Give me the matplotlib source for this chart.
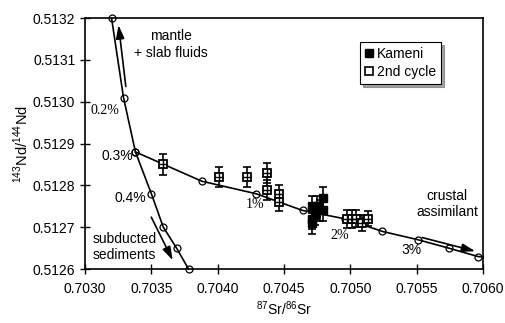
import matplotlib.pyplot as plt
from matplotlib.lines import Line2D

plt.rcParams['font.family'] = ['Liberation Sans', 'DejaVu Sans']
plt.rcParams['mathtext.fontset'] = 'custom'
plt.rcParams['mathtext.rm'] = 'Liberation Sans'

# mixing curve: mantle + slab fluids -> subducted sediments
sed_x = [0.70320, 0.70329, 0.70338, 0.70350, 0.70359, 0.70369, 0.70378]
sed_y = [0.51320, 0.51301, 0.51288, 0.51278, 0.51270, 0.51265, 0.51260]

# assimilation curve starting at 0.3% point
crust_x = [0.70338, 0.70388, 0.70429, 0.70464, 0.70496, 0.70524, 0.70551, 0.70574, 0.70596]
crust_y = [0.51288, 0.51281, 0.51278, 0.51274, 0.51272, 0.51269, 0.51267, 0.51265, 0.51263]

# Kameni samples
kam_x = [0.70471, 0.70471, 0.70473, 0.70475, 0.70477, 0.70479, 0.70479, 0.70471]
kam_y = [0.51275, 0.51272, 0.51273, 0.51275, 0.51274, 0.51277, 0.51274, 0.51271]
kam_err = [0.000025] * len(kam_x)

# 2nd cycle samples
cyc_x = [0.70359, 0.70401, 0.70422, 0.70437, 0.70437, 0.70446, 0.70446,
         0.70497, 0.70501, 0.70504, 0.70509, 0.70513]
cyc_y = [0.51285, 0.51282, 0.51282, 0.51283, 0.51279, 0.51278, 0.51276,
         0.51272, 0.51272, 0.51272, 0.51271, 0.51272]
cyc_err = [0.000025, 0.000024, 0.000024, 0.000024, 0.000024, 0.000022, 0.000022,
           0.000022, 0.000022, 0.000020, 0.000020, 0.000018]

x_ticks = [0.7030, 0.7035, 0.7040, 0.7045, 0.7050, 0.7055, 0.7060]
y_ticks = [0.5126, 0.5127, 0.5128, 0.5129, 0.5130, 0.5131, 0.5132]

fig = plt.figure(figsize=(5.06, 3.23), dpi=100)
ax = fig.add_axes([0.168, 0.167, 0.787, 0.777])

ax.plot(sed_x, sed_y, color='black', lw=1.2, marker='o', ms=5,
        mfc='none', mec='black', mew=0.9, zorder=3, clip_on=False)
ax.plot(crust_x + [0.7060], crust_y + [crust_y[-1] - 0.0000012], color='black', lw=1.2,
        zorder=3, clip_on=False)
ax.plot(crust_x, crust_y, ls='none', marker='o', ms=5,
        mfc='none', mec='black', mew=0.9, zorder=3, clip_on=False)

# error bars
ax.errorbar(kam_x, kam_y, yerr=kam_err, fmt='none', ecolor='black',
            elinewidth=1.2, capsize=3, capthick=1.2, zorder=4)
ax.errorbar(cyc_x, cyc_y, yerr=cyc_err, fmt='none', ecolor='black',
            elinewidth=1.2, capsize=3, capthick=1.2, zorder=4)

ax.plot(kam_x, kam_y, ls='none', marker='s', ms=6, mfc='black', mec='black', zorder=5)
ax.plot(cyc_x, cyc_y, ls='none', marker='s', ms=6, mfc='white', mec='black',
        mew=1.3, zorder=5)
ax.plot(cyc_x, cyc_y, ls='none', marker='+', ms=6, mec='black', mew=1.0, zorder=6)

ax.set_xlim(0.7030, 0.7060)
ax.set_ylim(0.5126, 0.5132)
ax.set_xticks(x_ticks)
ax.set_xticklabels([f'{v:.4f}' for v in x_ticks])
ax.set_yticks(y_ticks)
ax.set_yticklabels([f'{v:.4f}' for v in y_ticks])
ax.tick_params(axis='both', direction='inout', length=7, width=1, labelsize=10,
               colors='black')
ax.tick_params(axis='x', pad=6)
for s in ax.spines.values():
    s.set_linewidth(1.2)

ax.set_xlabel(r'$^{87}$Sr/$^{86}$Sr', fontsize=10, labelpad=2)
ax.set_ylabel(r'$^{143}$Nd/$^{144}$Nd', fontsize=10.5, labelpad=1)

# annotations
ax.text(0.70365, 0.513137, 'mantle\n+ slab fluids', fontsize=10, ha='center',
        va='center', linespacing=1.2)
ax.annotate('', xy=(0.70325, 0.51319), xytext=(0.70331, 0.51303),
            arrowprops=dict(arrowstyle='-|>,head_length=0.8,head_width=0.25',
                            color='black', lw=1.2))
ax.text(0.70306, 0.512652, 'subducted\nsediments', fontsize=10, ha='left',
        va='center', linespacing=1.2)
ax.annotate('', xy=(0.70367, 0.512615), xytext=(0.70349, 0.51273),
            arrowprops=dict(arrowstyle='-|>,head_length=0.8,head_width=0.25',
                            color='black', lw=1.2))
ax.text(0.70573, 0.512755, 'crustal\nassimilant', fontsize=10, ha='center',
        va='center', linespacing=1.2)
ax.annotate('', xy=(0.70596, 0.512641), xytext=(0.70552, 0.512677),
            arrowprops=dict(arrowstyle='-|>,head_length=0.8,head_width=0.25',
                            color='black', lw=1.2))

ax.text(0.70326, 0.51298, '0.2%', fontsize=10, ha='right', va='center',
        family=['Liberation Serif', 'DejaVu Serif'])
ax.text(0.70336, 0.51287, '0.3%', fontsize=10, ha='right', va='center')
ax.text(0.70346, 0.51277, '0.4%', fontsize=10, ha='right', va='center')
ax.text(0.70428, 0.512755, '1%', fontsize=10, ha='center', va='center',
        family=['Liberation Serif', 'DejaVu Serif'])
ax.text(0.70492, 0.512681, '2%', fontsize=10, ha='center', va='center',
        family=['Liberation Serif', 'DejaVu Serif'])
ax.text(0.70546, 0.512645, '3%', fontsize=10, ha='center', va='center')

handles = [Line2D([], [], ls='none', marker='s', ms=6, mfc='black', mec='black'),
           Line2D([], [], ls='none', marker='s', ms=6, mfc='white', mec='black', mew=1.2)]
leg = ax.legend(handles, ['Kameni', '2nd cycle'], loc='upper left',
                bbox_to_anchor=(0.69, 0.905), fontsize=10, frameon=True,
                fancybox=False, shadow=True, framealpha=1, edgecolor='black',
                handlelength=0.6, handletextpad=0.3, borderpad=0.35,
                labelspacing=0.3, borderaxespad=0)
leg.get_frame().set_linewidth(0.8)

fig.savefig('out.png', dpi=100)
